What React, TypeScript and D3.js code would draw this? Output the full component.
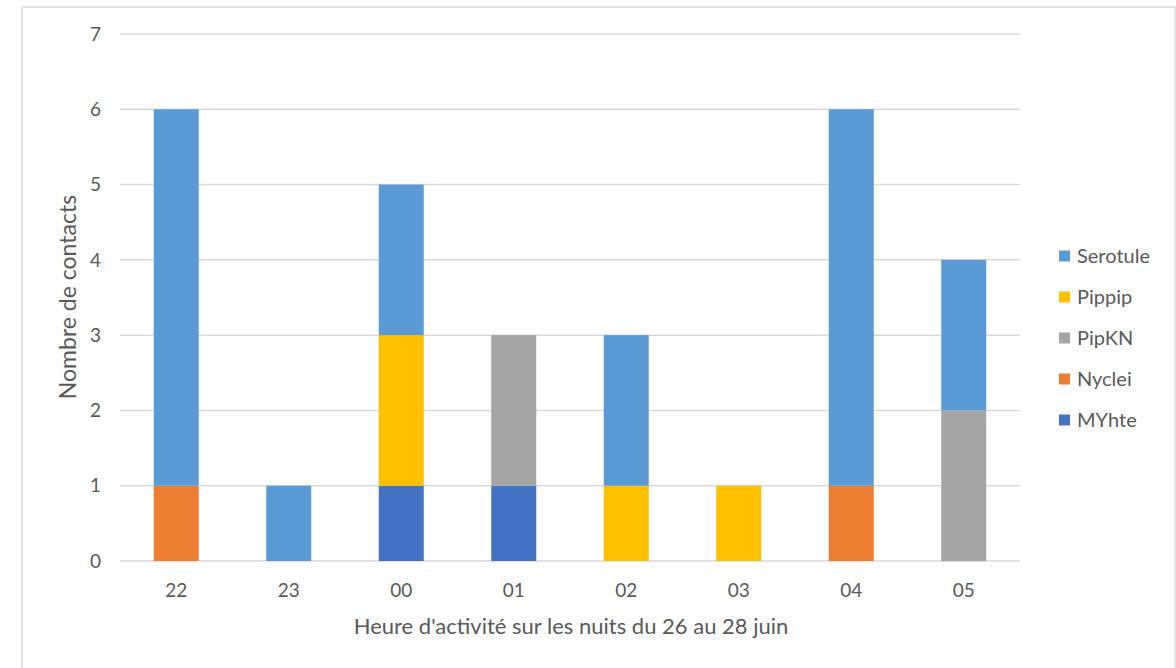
import React from "react";
import * as d3 from "d3";

const hours = ["22", "23", "00", "01", "02", "03", "04", "05"];
const speciesKeys = ["MYhte", "Nyclei", "PipKN", "Pippip", "Serotule"];
const MYhte = [0, 0, 1, 1, 0, 0, 0, 0];
const Nyclei = [1, 0, 0, 0, 0, 0, 1, 0];
const PipKN = [0, 0, 0, 2, 0, 0, 0, 2];
const Pippip = [0, 0, 2, 0, 1, 1, 0, 0];
const Serotule = [5, 1, 2, 0, 2, 0, 5, 2];
const yTicks = [0, 1, 2, 3, 4, 5, 6, 7];
const colors: Record<string, string> = {
  MYhte: "#4472C4",
  Nyclei: "#ED7D31",
  PipKN: "#A5A5A5",
  Pippip: "#FFC000",
  Serotule: "#5B9BD5",
};

const FONT = "Lato, 'Open Sans', sans-serif";

export default function App() {
  const W = 1176, H = 668;
  const left = 120, right = 1020, top = 34, bottom = 561;
  const seriesByKey: Record<string, number[]> = { MYhte, Nyclei, PipKN, Pippip, Serotule };
  const rows = hours.map((h, i) => {
    const r: any = { hour: h };
    speciesKeys.forEach((k) => (r[k] = seriesByKey[k][i]));
    return r;
  });
  const stacked = d3.stack().keys(speciesKeys)(rows);
  const x = d3.scaleBand().domain(hours).range([left, right]).paddingInner(0.6).paddingOuter(0.3);
  const y = d3.scaleLinear().domain([0, 7]).range([bottom, top]);
  const legendOrder = [...speciesKeys].reverse();

  return (
    <svg width={W} height={H} style={{ position: "absolute", left: 0, top: 0, background: "#fff" }}>
      <rect x={22} y={7} width={1153} height={670} fill="#fff" stroke="#d9d9d9" strokeWidth={1.5} />
      {yTicks.map((t) => (
        <g key={t}>
          <line x1={left} x2={right} y1={y(t)} y2={y(t)} stroke="#d9d9d9" strokeWidth={1.5} />
          <text x={101} y={y(t)} dy="0.35em" textAnchor="end" fontSize={19} fill="#595959" fontFamily={FONT}>
            {t}
          </text>
        </g>
      ))}
      {stacked.map((s) =>
        s.map((d, i) =>
          d[1] - d[0] > 0 ? (
            <rect
              key={s.key + i}
              x={x(hours[i])}
              y={y(d[1])}
              width={x.bandwidth()}
              height={y(d[0]) - y(d[1])}
              fill={colors[s.key]}
            />
          ) : null
        )
      )}
      {hours.map((h) => (
        <text key={h} x={(x(h) as number) + x.bandwidth() / 2} y={590} dy="0.35em" textAnchor="middle" fontSize={19} fill="#595959" fontFamily={FONT}>
          {h}
        </text>
      ))}
      <text x={571} y={626} dy="0.35em" textAnchor="middle" fontSize={22} fill="#595959" fontFamily={FONT}>
        Heure d'activité sur les nuits du 26 au 28 juin
      </text>
      <text transform={`translate(68,297) rotate(-90)`} dy="0.35em" textAnchor="middle" fontSize={23} fill="#595959" fontFamily={FONT}>
        Nombre de contacts
      </text>
      {legendOrder.map((k, i) => (
        <g key={k} transform={`translate(1059,${256 + i * 41})`}>
          <rect x={0} y={-5.5} width={11} height={11} fill={colors[k]} />
          <text x={18} y={0} dy="0.35em" fontSize={20} fill="#595959" fontFamily={FONT}>
            {k}
          </text>
        </g>
      ))}
    </svg>
  );
}
